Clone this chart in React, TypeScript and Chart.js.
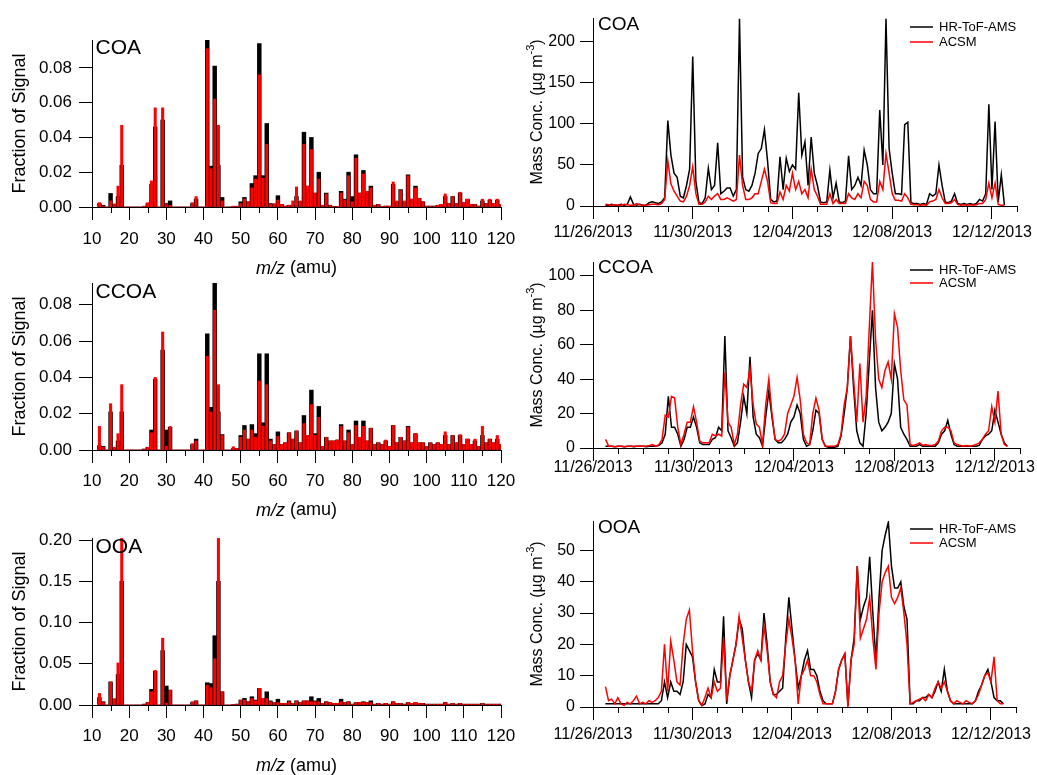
import React, { useEffect, useRef } from "react";
import { Chart, registerables } from "chart.js";

Chart.register(...registerables);

const PAGE_W = 1037;
const PAGE_H = 775;
const FONT = "'Liberation Sans', Arial, Helvetica, sans-serif";
const INK = "#000000";
const RED = "#ff0000";

Chart.defaults.font.family = FONT;
Chart.defaults.color = INK;

// ---------- factor mass spectra: fraction of signal at m/z 12 … 120 ----------
const MZ_FIRST = 12;
const MZ_TICKS = [10, 20, 30, 40, 50, 60, 70, 80, 90, 100, 110, 120];
const MZ_MINOR = [15, 25, 35, 45, 55, 65, 75, 85, 95, 105, 115];

const COA_AMS = [
  0.002, 0.001, 0, 0.0078, 0.0015, 0.006, 0.024, 0, 0, 0,
  0, 0, 0.0003, 0.002, 0.013, 0.046, 0, 0.05, 0.002, 0.0035,
  0, 0, 0, 0, 0, 0.002, 0.0045, 0, 0, 0.096,
  0.0235, 0.081, 0.024, 0.0055, 0, 0, 0.0003, 0.0003, 0.003, 0.0055,
  0.003, 0.0135, 0.018, 0.094, 0.018, 0.048, 0.002, 0.0015, 0.0065, 0.0015,
  0.0005, 0.001, 0.0008, 0.006, 0.003, 0.043, 0.012, 0.04, 0.008, 0.02,
  0.001, 0.008, 0.001, 0.0003, 0.0002, 0.009, 0.0045, 0.02, 0.006, 0.03,
  0.008, 0.021, 0.009, 0.012, 0.001, 0.0015, 0.0002, 0.0005, 0.0005, 0.013,
  0.003, 0.01, 0.003, 0.0185, 0.0045, 0.012, 0.005, 0.003, 0.0005, 0.0005,
  0.0005, 0.001, 0.0015, 0.006, 0.002, 0.006, 0.002, 0.008, 0.0025, 0.0045,
  0.0015, 0.0015, 0.0005, 0.0035, 0.002, 0.004, 0.002, 0.004, 0.0015,
];
const COA_ACSM = [
  0.0025, 0.0005, 0, 0.0035, 0.0018, 0.012, 0.047, 0, 0, 0,
  0, 0, 0.0005, 0.0025, 0.015, 0.057, 0, 0.057, 0.0015, 0.001,
  0, 0, 0, 0, 0, 0.0025, 0.006, 0, 0, 0.091,
  0.022, 0.062, 0.047, 0.0035, 0, 0, 0.0005, 0.0005, 0.002, 0.0045,
  0.003, 0.011, 0.016, 0.076, 0.0165, 0.036, 0.0015, 0.002, 0.004, 0.0015,
  0.0005, 0.001, 0.0035, 0.0115, 0.0035, 0.036, 0.012, 0.033, 0.008, 0.016,
  0.001, 0.0075, 0.001, 0.0003, 0.0002, 0.008, 0.004, 0.018, 0.003, 0.028,
  0.008, 0.019, 0.009, 0.011, 0.001, 0.0015, 0.0002, 0.0005, 0.0005, 0.0144,
  0.0035, 0.0095, 0.0035, 0.018, 0.0045, 0.011, 0.005, 0.003, 0.0005, 0.0005,
  0.0005, 0.001, 0.0015, 0.0075, 0.002, 0.006, 0.002, 0.0085, 0.0025, 0.0045,
  0.0015, 0.0015, 0.0005, 0.0045, 0.002, 0.0045, 0.002, 0.0045, 0.0015,
];
const CCOA_AMS = [
  0.0025, 0.002, 0, 0.021, 0.001, 0.005, 0.021, 0, 0, 0,
  0, 0, 0.0005, 0.0015, 0.011, 0.039, 0, 0.055, 0.011, 0.0125,
  0, 0, 0, 0, 0, 0.003, 0.006, 0, 0, 0.064,
  0.0235, 0.092, 0.021, 0.0085, 0, 0, 0.0008, 0.0008, 0.008, 0.0135,
  0.006, 0.014, 0.009, 0.053, 0.015, 0.053, 0.006, 0.003, 0.01, 0.003,
  0.004, 0.0095, 0.006, 0.0105, 0.004, 0.019, 0.008, 0.033, 0.009, 0.024,
  0.002, 0.007, 0.005, 0.005, 0.0055, 0.014, 0.005, 0.011, 0.003, 0.016,
  0.007, 0.016, 0.005, 0.012, 0.003, 0.004, 0.003, 0.005, 0.002, 0.0135,
  0.004, 0.007, 0.005, 0.013, 0.004, 0.009, 0.004, 0.004, 0.002, 0.004,
  0.003, 0.004, 0.003, 0.008, 0.003, 0.008, 0.004, 0.008, 0.003, 0.006,
  0.003, 0.005, 0.002, 0.008, 0.004, 0.006, 0.004, 0.006, 0.003,
];
const CCOA_ACSM = [
  0.013, 0.0015, 0, 0.0255, 0.0015, 0.009, 0.036, 0, 0, 0,
  0, 0, 0.0005, 0.0015, 0.0095, 0.04, 0, 0.065, 0.002, 0.013,
  0, 0, 0, 0, 0, 0.0035, 0.005, 0, 0, 0.0516,
  0.021, 0.077, 0.036, 0.008, 0, 0, 0.0018, 0.0008, 0.007, 0.011,
  0.006, 0.011, 0.007, 0.038, 0.013, 0.036, 0.005, 0.003, 0.0075, 0.003,
  0.004, 0.0095, 0.006, 0.0105, 0.004, 0.0145, 0.008, 0.025, 0.008, 0.018,
  0.002, 0.007, 0.005, 0.005, 0.0055, 0.013, 0.005, 0.0095, 0.003, 0.0135,
  0.007, 0.013, 0.005, 0.012, 0.003, 0.004, 0.003, 0.0055, 0.002, 0.0135,
  0.004, 0.007, 0.005, 0.0125, 0.004, 0.009, 0.004, 0.004, 0.002, 0.004,
  0.003, 0.004, 0.003, 0.01, 0.003, 0.008, 0.004, 0.0085, 0.003, 0.006,
  0.003, 0.006, 0.002, 0.013, 0.004, 0.006, 0.004, 0.008, 0.003,
];
const OOA_AMS = [
  0.009, 0.004, 0, 0.028, 0.0075, 0.037, 0.15, 0, 0, 0,
  0, 0, 0.001, 0.003, 0.019, 0.041, 0, 0.066, 0.023, 0.018,
  0, 0, 0, 0, 0, 0.003, 0.005, 0, 0, 0.027,
  0.026, 0.084, 0.15, 0.016, 0, 0, 0.0005, 0.001, 0.006, 0.008,
  0.004, 0.01, 0.006, 0.02, 0.008, 0.016, 0.005, 0.003, 0.007, 0.002,
  0.002, 0.005, 0.002, 0.005, 0.003, 0.005, 0.005, 0.01, 0.005, 0.008,
  0.002, 0.004, 0.003, 0.002, 0.002, 0.007, 0.003, 0.004, 0.001, 0.003,
  0.003, 0.004, 0.003, 0.005, 0.001, 0.002, 0.001, 0.002, 0.001, 0.004,
  0.002, 0.002, 0.001, 0.003, 0.002, 0.003, 0.002, 0.002, 0.001, 0.001,
  0.001, 0.001, 0.001, 0.003, 0.001, 0.002, 0.001, 0.002, 0.001, 0.001,
  0.001, 0.001, 0.001, 0.002, 0.001, 0.001, 0.001, 0.001, 0.001,
];
const OOA_ACSM = [
  0.014, 0.003, 0, 0.028, 0.007, 0.051, 0.202, 0, 0, 0,
  0, 0, 0.001, 0.003, 0.016, 0.042, 0, 0.081, 0.002, 0.018,
  0, 0, 0, 0, 0, 0.004, 0.005, 0, 0, 0.024,
  0.021, 0.056, 0.202, 0.016, 0, 0, 0.0005, 0.001, 0.006, 0.006,
  0.004, 0.008, 0.005, 0.02, 0.008, 0.008, 0.004, 0.003, 0.003, 0.002,
  0.002, 0.004, 0.002, 0.005, 0.003, 0.005, 0.005, 0.004, 0.004, 0.004,
  0.002, 0.004, 0.003, 0.002, 0.002, 0.004, 0.003, 0.004, 0.001, 0.003,
  0.003, 0.003, 0.003, 0.003, 0.001, 0.002, 0.001, 0.002, 0.001, 0.004,
  0.002, 0.002, 0.001, 0.003, 0.002, 0.003, 0.002, 0.002, 0.001, 0.001,
  0.001, 0.001, 0.001, 0.003, 0.001, 0.002, 0.001, 0.002, 0.001, 0.001,
  0.001, 0.001, 0.001, 0.002, 0.001, 0.001, 0.001, 0.001, 0.001,
];

// ---------- factor time series (µg m-3), 3-hourly from 11/26/2013 12:00 ----------
// x is in days after 11/26/2013 00:00; one row per day
const TS_START_DAY = 0.5;
const TS_STEP_DAY = 0.125;
const DATE_TICKS = [0, 4, 8, 12, 16];
const DATE_LABELS = ["11/26/2013", "11/30/2013", "12/04/2013", "12/08/2013", "12/12/2013"];
const DAY_MINOR = [1, 2, 3, 5, 6, 7, 9, 10, 11, 13, 14, 15, 17];

const COA_TS_AMS = [
  1, 1, 2, 1, 1, 2, 1, 2,
  11, 2, 1, 2, 1, 1, 4, 5,
  4, 3, 5, 10, 104, 62, 40, 35,
  12, 10, 25, 45, 182, 30, 4, 3,
  10, 46, 20, 25, 77, 15, 18, 22,
  22, 12, 20, 228, 35, 20, 18, 25,
  40, 64, 70, 93, 55, 8, 5, 6,
  60, 20, 58, 42, 50, 45, 138, 62,
  78, 25, 84, 40, 25, 5, 4, 5,
  44, 10, 28, 5, 4, 6, 61, 20,
  25, 35, 25, 68, 50, 20, 15, 15,
  117, 50, 228, 70, 40, 15, 15, 14,
  99, 102, 4, 3, 3, 2, 3, 2,
  15, 12, 15, 50, 25, 5, 4, 6,
  15, 3, 2, 3, 2, 3, 2, 3,
  8, 6, 15, 124, 20, 103, 5, 38,
  1,
];
const COA_TS_ACSM = [
  2, 1.5, 1, 1.5, 1, 1, 2, 1.5,
  1, 1, 3, 1.5, 1, 1, 1.5, 2,
  2, 1.5, 3, 8, 55, 27, 18, 12,
  6, 5, 12, 25, 48, 15, 2, 2,
  5, 12, 8, 12, 15, 8, 8, 10,
  8, 6, 8, 62, 25, 8, 8, 10,
  15, 15, 30, 45, 30, 4, 3, 3,
  17, 8, 25, 18, 40, 20, 30, 15,
  20, 10, 45, 20, 12, 2, 2, 2,
  15, 3, 8, 3, 3, 3, 15, 10,
  8, 15, 10, 30, 25, 8, 5, 5,
  30, 20, 64, 40, 15, 7, 7, 6,
  15, 10, 2, 1.5, 1.5, 1, 1.5, 1,
  5, 6, 8, 20, 10, 3, 3, 4,
  8, 2, 1, 1.5, 1, 1.5, 1, 1.5,
  3, 3, 8, 28, 10, 28, 2, 1,
  1,
];
const CCOA_TS_AMS = [
  1, 1, 1, 0.8, 1, 1, 0.8, 1,
  1, 0.8, 1, 1, 1, 0.8, 1, 1,
  1, 1.5, 3, 8, 30, 12, 12, 8,
  1, 5, 12, 12, 18, 12, 3, 2,
  2, 2, 5, 6, 12, 10, 65, 10,
  6, 1, 3, 15, 30, 20, 53, 18,
  8, 6, 1, 18, 33, 18, 5, 3,
  3, 5, 8, 15, 18, 25, 20, 5,
  1, 2, 10, 22, 20, 5, 1, 0.5,
  0.5, 0.5, 1, 7, 20, 35, 65, 35,
  10, 3, 1, 20, 50, 80, 35, 15,
  10, 12, 15, 20, 49, 40, 12, 8,
  5, 1, 1, 1, 2, 1, 1, 1,
  1, 1, 3, 8, 10, 16, 8, 2,
  1, 1, 1, 1, 1, 1, 1, 1.5,
  5, 7, 8, 10, 22, 15, 8, 3,
  1,
];
const CCOA_TS_ACSM = [
  5, 1, 1, 0.8, 1, 1, 0.8, 1,
  1, 1, 1, 1.2, 1, 1.2, 1.5, 2,
  1, 2, 5, 19, 18, 30, 29, 12,
  2, 8, 15, 15, 24, 15, 4, 3,
  3, 3, 8, 7, 8, 7, 44, 15,
  12, 2, 8, 25, 37, 35, 46, 25,
  14, 12, 2, 25, 40, 20, 5, 4,
  5, 8, 20, 25, 30, 41, 28, 8,
  3, 2, 20, 29, 22, 5, 1, 1,
  1, 1, 2, 8, 25, 35, 65, 40,
  15, 49, 15, 30, 70, 108, 63, 40,
  35, 45, 50, 40, 78, 70, 45, 28,
  25, 2, 1.5, 2, 3, 1.5, 2, 1.5,
  1.5, 2, 4, 10, 12, 12, 10, 3,
  2, 1.5, 1, 1.5, 1, 1.5, 2, 3,
  5, 8, 10, 24, 15, 33, 8, 2,
  1,
];
const OOA_TS_AMS = [
  1, 1, 1, 1, 1, 1, 1, 1,
  1, 1, 1, 1, 1, 1, 1, 1,
  1, 1, 2, 8, 3, 8, 5, 5,
  4, 8, 20, 18, 16, 8, 2, 0.5,
  1, 4, 3, 12, 8, 8, 29, 1,
  10, 15, 20, 28, 25, 15, 8, 3,
  15, 17, 15, 30, 20, 8, 4, 4,
  5, 6, 22, 35, 25, 15, 6, 10,
  15, 18, 12, 12, 10, 5, 2, 1,
  1, 1, 5, 12, 15, 17, 0.5, 15,
  22, 45, 28, 32, 35, 48, 30, 15,
  35, 50, 55, 59, 45, 38, 38, 40,
  32, 28, 1, 1, 2, 2, 3, 3,
  4, 3, 5, 8, 5, 12, 5, 2,
  1, 1, 1, 1, 1, 1, 1, 2,
  5, 7, 10, 12, 8, 3, 2, 2,
  1,
];
const OOA_TS_ACSM = [
  6.5, 2, 2.5, 1, 3, 1, 0.5, 1.5,
  1, 2, 3.5, 1, 1.5, 1, 2, 1.5,
  2, 3, 5, 20, 5, 21, 15, 8,
  7, 20, 28, 31, 18, 8, 2, 0.5,
  3, 6, 3, 8, 5, 6, 22, 2,
  10, 15, 20, 29, 22, 15, 8, 5,
  15, 18, 15, 26, 18, 8, 4, 3,
  8, 10, 20, 28, 22, 15, 1, 10,
  12, 15, 10, 10, 8, 4, 1, 1,
  1, 1, 5, 12, 15, 17, 0, 15,
  20, 45, 22, 25, 28, 35, 22, 12,
  30, 40, 43, 45, 35, 33, 35, 38,
  30, 20, 1, 1.5, 2, 2.5, 3, 2,
  4, 3, 6, 8, 6, 8, 5, 2,
  1, 2, 1.5, 1, 2, 1.5, 1, 2,
  4, 7, 10, 11, 8, 16, 2, 1,
  1,
];

// ---------- layout ----------
type Box = { l: number; t: number; r: number; b: number };
const Y_BOX_W = 60;
const X_BOX_H = 40;

function padFor(box: Box) {
  return {
    left: box.l - Y_BOX_W,
    top: box.t,
    right: PAGE_W - box.r,
    bottom: PAGE_H - box.b - X_BOX_H,
  };
}

function setText(ctx: CanvasRenderingContext2D, size: number, style = "") {
  ctx.font = `${style} ${size}px ${FONT}`.trim();
  ctx.fillStyle = INK;
  ctx.textBaseline = "middle";
}

function minorTicks(ctx: CanvasRenderingContext2D, chart: any, values: number[], len: number) {
  const xs = chart.scales.x;
  const y0 = chart.chartArea.bottom;
  ctx.strokeStyle = INK;
  ctx.lineWidth = 1;
  for (const v of values) {
    const px = Math.round(xs.getPixelForValue(v)) + 0.5;
    ctx.beginPath();
    ctx.moveTo(px, y0);
    ctx.lineTo(px, y0 + len);
    ctx.stroke();
  }
}

function decor(draw: (ctx: CanvasRenderingContext2D, chart: any) => void) {
  return {
    id: "decor",
    afterDraw(chart: any) {
      const ctx = chart.ctx;
      ctx.save();
      draw(ctx, chart);
      ctx.restore();
    },
  };
}

const axisCommon = {
  grid: { offset: false, drawOnChartArea: false, drawTicks: true, tickLength: 13, color: INK, lineWidth: 1 },
  border: { display: true, color: INK, width: 1 },
};

type SpectrumPanel = {
  name: string;
  ams: number[];
  acsm: number[];
  box: Box;
  yMax: number;
  yTicks: number[];
  xPad: number;
  nameY: number;
  xTitleY: number;
};

type SeriesPanel = {
  name: string;
  ams: number[];
  acsm: number[];
  box: Box;
  yMax: number;
  yTicks: number[];
  xPad: number;
  nameY: number;
  legendY: [number, number];
};

const SPECTRA: SpectrumPanel[] = [
  { name: "COA", ams: COA_AMS, acsm: COA_ACSM, box: { l: 92, t: 40, r: 501, b: 207 }, yMax: 0.096,
    yTicks: [0, 0.02, 0.04, 0.06, 0.08], xPad: 9, nameY: 48.5, xTitleY: 268.5 },
  { name: "CCOA", ams: CCOA_AMS, acsm: CCOA_ACSM, box: { l: 92, t: 283, r: 501, b: 450 }, yMax: 0.092,
    yTicks: [0, 0.02, 0.04, 0.06, 0.08], xPad: 8.5, nameY: 292, xTitleY: 510.5 },
  { name: "OOA", ams: OOA_AMS, acsm: OOA_ACSM, box: { l: 92, t: 538, r: 501, b: 705 }, yMax: 0.2025,
    yTicks: [0, 0.05, 0.1, 0.15, 0.2], xPad: 8, nameY: 547, xTitleY: 766 },
];

const SERIES: SeriesPanel[] = [
  { name: "COA", ams: COA_TS_AMS, acsm: COA_TS_ACSM, box: { l: 593, t: 18, r: 1020, b: 206 }, yMax: 229,
    yTicks: [0, 50, 100, 150, 200], xPad: 4, nameY: 25, legendY: [27, 42] },
  { name: "CCOA", ams: CCOA_TS_AMS, acsm: CCOA_TS_ACSM, box: { l: 593, t: 262, r: 1020, b: 448 }, yMax: 108,
    yTicks: [0, 20, 40, 60, 80, 100], xPad: -3.5, nameY: 268, legendY: [270, 283] },
  { name: "OOA", ams: OOA_TS_AMS, acsm: OOA_TS_ACSM, box: { l: 593, t: 521, r: 1020, b: 707 }, yMax: 59.4,
    yTicks: [0, 10, 20, 30, 40, 50], xPad: 5, nameY: 528, legendY: [529, 543] },
];

function spectrumConfig(p: SpectrumPanel): any {
  const pts = (vals: number[]) => vals.map((y, i) => ({ x: MZ_FIRST + i, y }));
  return {
    type: "bar",
    data: {
      datasets: [
        { label: "ACSM", data: pts(p.acsm), backgroundColor: RED, barThickness: 2.4, grouped: false, order: 0, borderWidth: 0 },
        { label: "HR-ToF-AMS", data: pts(p.ams), backgroundColor: INK, barThickness: 3.8, grouped: false, order: 1, borderWidth: 0 },
      ],
    },
    options: {
      animation: false,
      responsive: false,
      devicePixelRatio: 1,
      events: [],
      layout: { padding: padFor(p.box) },
      plugins: { legend: { display: false }, tooltip: { enabled: false }, title: { display: false } },
      scales: {
        x: {
          type: "linear", min: 10, max: 120, offset: false,
          afterBuildTicks: (s: any) => { s.ticks = MZ_TICKS.map((value) => ({ value })); },
          afterFit: (s: any) => { s.height = X_BOX_H; },
          ticks: { autoSkip: false, maxRotation: 0, minRotation: 0, padding: p.xPad, color: INK,
            font: { size: 17, family: FONT }, callback: (v: any) => String(v) },
          ...axisCommon,
        },
        y: {
          type: "linear", min: 0, max: p.yMax,
          afterBuildTicks: (s: any) => { s.ticks = p.yTicks.map((value) => ({ value })); },
          afterFit: (s: any) => { s.width = Y_BOX_W; },
          ticks: { autoSkip: false, padding: 7, color: INK, font: { size: 17, family: FONT },
            callback: (v: any) => Number(v).toFixed(2) },
          ...axisCommon,
        },
      },
    },
    plugins: [
      decor((ctx, chart) => {
        const { top, bottom, left, right } = chart.chartArea;
        minorTicks(ctx, chart, MZ_MINOR, 6);
        // factor name
        setText(ctx, 21);
        ctx.textAlign = "left";
        ctx.fillText(p.name, left + 3.5, p.nameY);
        // y title
        ctx.save();
        ctx.translate(20, (top + bottom) / 2);
        ctx.rotate(-Math.PI / 2);
        setText(ctx, 18);
        ctx.textAlign = "center";
        ctx.fillText("Fraction of Signal", 0, 0);
        ctx.restore();
        // x title: italic m/z followed by (amu)
        setText(ctx, 18, "italic");
        const w1 = ctx.measureText("m/z").width;
        setText(ctx, 18);
        const w2 = ctx.measureText(" (amu)").width;
        const x0 = (left + right) / 2 - (w1 + w2) / 2;
        ctx.textAlign = "left";
        setText(ctx, 18, "italic");
        ctx.fillText("m/z", x0, p.xTitleY);
        setText(ctx, 18);
        ctx.fillText(" (amu)", x0 + w1, p.xTitleY);
      }),
    ],
  };
}

function seriesConfig(p: SeriesPanel): any {
  const pts = (vals: number[]) => vals.map((y, i) => ({ x: TS_START_DAY + i * TS_STEP_DAY, y }));
  return {
    type: "line",
    data: {
      datasets: [
        { label: "ACSM", data: pts(p.acsm), borderColor: RED, borderWidth: 1.5, pointRadius: 0, tension: 0, order: 0 },
        { label: "HR-ToF-AMS", data: pts(p.ams), borderColor: INK, borderWidth: 1.5, pointRadius: 0, tension: 0, order: 1 },
      ],
    },
    options: {
      animation: false,
      responsive: false,
      devicePixelRatio: 1,
      events: [],
      layout: { padding: padFor(p.box) },
      plugins: { legend: { display: false }, tooltip: { enabled: false }, title: { display: false } },
      scales: {
        x: {
          type: "linear", min: 0, max: 17, offset: false,
          afterBuildTicks: (s: any) => { s.ticks = DATE_TICKS.map((value) => ({ value })); },
          afterFit: (s: any) => { s.height = X_BOX_H; },
          ticks: { autoSkip: false, maxRotation: 0, minRotation: 0, padding: p.xPad, color: INK,
            font: { size: 16, family: FONT },
            callback: (v: any) => DATE_LABELS[DATE_TICKS.indexOf(Number(v))] ?? "" },
          ...axisCommon,
        },
        y: {
          type: "linear", min: 0, max: p.yMax,
          afterBuildTicks: (s: any) => { s.ticks = p.yTicks.map((value) => ({ value })); },
          afterFit: (s: any) => { s.width = Y_BOX_W; },
          ticks: { autoSkip: false, padding: 5, color: INK, font: { size: 16, family: FONT },
            callback: (v: any) => String(v) },
          ...axisCommon,
        },
      },
    },
    plugins: [
      decor((ctx, chart) => {
        const { top, bottom, left } = chart.chartArea;
        minorTicks(ctx, chart, DAY_MINOR, 6);
        // factor name
        setText(ctx, 19);
        ctx.textAlign = "left";
        ctx.fillText(p.name, left + 5, p.nameY);
        // y title with superscript unit
        ctx.save();
        ctx.translate(538, (top + bottom) / 2);
        ctx.rotate(-Math.PI / 2);
        setText(ctx, 16);
        const main = "Mass Conc. (µg m";
        const wMain = ctx.measureText(main).width;
        const wClose = ctx.measureText(")").width;
        setText(ctx, 11);
        const wSup = ctx.measureText("-3").width;
        let x = -(wMain + wSup + wClose) / 2;
        ctx.textAlign = "left";
        setText(ctx, 16);
        ctx.fillText(main, x, 0);
        x += wMain;
        setText(ctx, 11);
        ctx.fillText("-3", x, -7);
        x += wSup;
        setText(ctx, 16);
        ctx.fillText(")", x, 0);
        ctx.restore();
        // legend
        const entries: [string, string][] = [[INK, "HR-ToF-AMS"], [RED, "ACSM"]];
        entries.forEach(([color, text], i) => {
          const y = p.legendY[i];
          ctx.strokeStyle = color;
          ctx.lineWidth = 1.5;
          ctx.beginPath();
          ctx.moveTo(910, y);
          ctx.lineTo(933, y);
          ctx.stroke();
          setText(ctx, 13);
          ctx.textAlign = "left";
          ctx.fillText(text, 939, y);
        });
      }),
    ],
  };
}

function ChartLayer({ config }: { config: any }) {
  const ref = useRef<HTMLCanvasElement>(null);
  useEffect(() => {
    const chart = new Chart(ref.current as HTMLCanvasElement, config);
    return () => chart.destroy();
  }, [config]);
  return (
    <canvas
      ref={ref}
      width={PAGE_W}
      height={PAGE_H}
      style={{ position: "absolute", left: 0, top: 0, width: PAGE_W, height: PAGE_H }}
    />
  );
}

const CONFIGS = [...SPECTRA.map(spectrumConfig), ...SERIES.map(seriesConfig)];

export default function App() {
  return (
    <div style={{ position: "absolute", left: 0, top: 0, width: PAGE_W, height: PAGE_H, background: "#ffffff" }}>
      {CONFIGS.map((c, i) => (
        <ChartLayer key={i} config={c} />
      ))}
    </div>
  );
}
